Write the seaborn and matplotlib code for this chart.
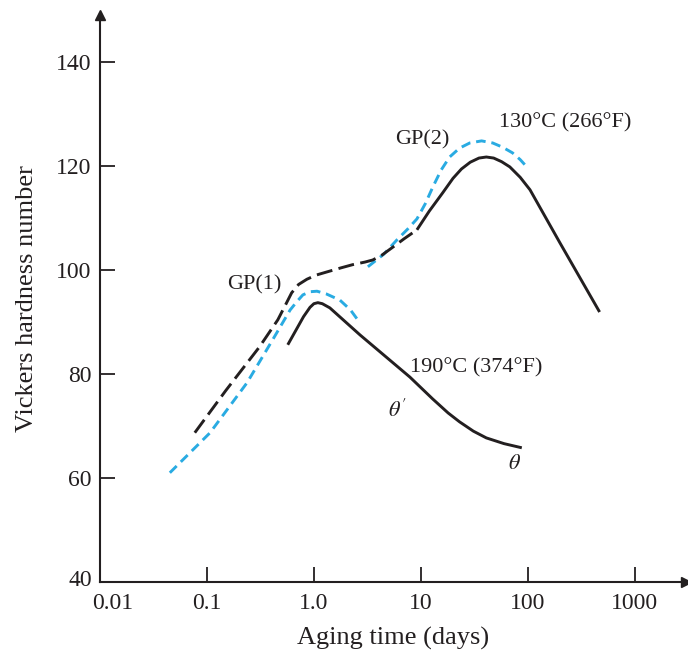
import numpy as np
import pandas as pd
import matplotlib
matplotlib.use("Agg")
import matplotlib.pyplot as plt
import matplotlib.transforms as mtransforms
import seaborn as sns

# ---- data ----
# 130 C, black dashed part (GP(1) -> plateau)
t130_dash = [0.077, 0.15, 0.31, 0.46, 0.55, 0.62, 0.72, 0.86, 1.05, 1.32, 1.8, 2.3, 3.0, 3.55, 4.3, 5.5, 7.0, 9.2]
h130_dash = [68.7, 76.8, 85.2, 90.4, 93.5, 95.6, 97.2, 98.2, 99.0, 99.6, 100.4, 101.0, 101.5, 101.9, 102.8, 104.4, 106.0, 107.7]
# 130 C, black solid part (GP(2) peak and over-aging)
t130_solid = [9.2, 12, 16, 20, 24, 29, 35, 41, 48, 57, 68, 85, 105, 200, 470]
h130_solid = [107.7, 111.3, 114.8, 117.6, 119.4, 120.7, 121.5, 121.7, 121.5, 120.8, 119.8, 117.8, 115.4, 105.2, 91.9]
# 130 C, blue dashed (GP(2))
t130_blue = [3.2, 4.5, 6.0, 7.5, 9.2, 11, 13, 15.5, 18.6, 23, 28.7, 37, 47, 58, 72, 85, 98]
h130_blue = [100.6, 103.0, 105.8, 107.8, 109.8, 112.7, 116.0, 119.2, 121.7, 123.4, 124.4, 124.8, 124.4, 123.6, 122.5, 121.2, 119.8]
# 190 C, black solid
t190 = [0.57, 0.8, 0.92, 1.0, 1.09, 1.2, 1.41, 2.7, 7.9, 12.9, 18, 23, 31, 41, 60, 88]
h190 = [85.6, 91.0, 92.8, 93.5, 93.7, 93.5, 92.7, 87.5, 79.4, 75.2, 72.5, 70.8, 69.0, 67.7, 66.6, 65.8]
# 190 C, blue dashed
t190_blue = [0.045, 0.107, 0.237, 0.41, 0.6, 0.7, 0.79, 0.92, 1.07, 1.3, 1.75, 2.2, 2.7]
h190_blue = [61.0, 68.7, 78.3, 86.5, 92.3, 94.0, 95.2, 95.8, 95.9, 95.4, 94.2, 92.3, 89.8]

xticks = [0.01, 0.1, 1.0, 10, 100, 1000]
xticklabels = ["0.01", "0.1", "1.0", "10", "100", "1000"]
yticks = [40, 60, 80, 100, 120, 140]

BLACK = "#231f20"
BLUE = "#29abe2"

sns.set_theme(style="white")
plt.rcParams["font.family"] = ["Liberation Serif", "DejaVu Serif"]
plt.rcParams["mathtext.fontset"] = "stix"

fig = plt.figure(figsize=(6.88, 6.54), dpi=100)
ax = fig.add_axes([100 / 688, 72 / 654, 586 / 688, 567 / 654])

lw = 2.1
def draw(t, h, color, dashes=None):
    sns.lineplot(x=t, y=h, ax=ax, color=color, lw=lw, sort=False,
                 estimator=None, legend=False)
    line = ax.lines[-1]
    line.set_solid_capstyle("butt")
    line.set_solid_joinstyle("round")
    if dashes is not None:
        line.set_dashes(dashes)
        line.set_dash_capstyle("butt")
        line.set_dash_joinstyle("round")

draw(t130_blue, h130_blue, BLUE, (3.3, 2.0))
draw(t190_blue, h190_blue, BLUE, (3.3, 2.0))
draw(t130_dash, h130_dash, BLACK, (5.5, 2.2))
draw(t130_solid, h130_solid, BLACK)
draw(t190, h190, BLACK)

ax.set_xscale("log")
ax.set_xlim(0.01, 10 ** 3.48)
ax.set_ylim(40, 149)

ax.set_xticks(xticks)
ax.set_xticklabels(xticklabels)
ax.set_yticks(yticks)
ax.minorticks_off()
ax.tick_params(axis="both", direction="in", length=11, width=1.3,
               color=BLACK, labelsize=17, labelcolor=BLACK,
               bottom=True, left=True, top=False, right=False)
ax.tick_params(axis="x", pad=8)
ax.tick_params(axis="y", pad=6)

# shift the corner labels so they do not collide
xl0 = ax.get_xticklabels()[0]
xl0.set_transform(xl0.get_transform() + mtransforms.ScaledTranslation(13 / 100, 0, fig.dpi_scale_trans))
yl0 = ax.get_yticklabels()[0]
yl0.set_transform(yl0.get_transform() + mtransforms.ScaledTranslation(0, 4 / 100, fig.dpi_scale_trans))

for s in ["top", "right"]:
    ax.spines[s].set_visible(False)
for s in ["left", "bottom"]:
    ax.spines[s].set_color(BLACK)
    ax.spines[s].set_linewidth(1.5)

# axis arrows
ax.plot(1, 0, marker=">", color=BLACK, markersize=7, transform=ax.transAxes, clip_on=False)
ax.plot(0, 1, marker="^", color=BLACK, markersize=7, transform=ax.transAxes, clip_on=False)

ax.set_xlabel("Aging time (days)", fontsize=19, color=BLACK, labelpad=9)
ax.set_ylabel("Vickers hardness number", fontsize=19, color=BLACK, labelpad=13)

fs = 16
ax.text(0.275, 97.1, "GP(1)", fontsize=fs, color=BLACK, ha="center", va="center")
ax.text(10.4, 125.0, "GP(2)", fontsize=fs, color=BLACK, ha="center", va="center")
ax.text(222, 128.2, "130°C (266°F)", fontsize=fs, color=BLACK, ha="center", va="center")
ax.text(33.3, 81.2, "190°C (374°F)", fontsize=fs, color=BLACK, ha="center", va="center")
ax.text(6.0, 73.0, "$\\theta'$", fontsize=fs, color=BLACK, ha="center", va="center")
ax.text(75, 62.5, "$\\theta$", fontsize=fs, color=BLACK, ha="center", va="center")

fig.savefig("out.png", dpi=100)
